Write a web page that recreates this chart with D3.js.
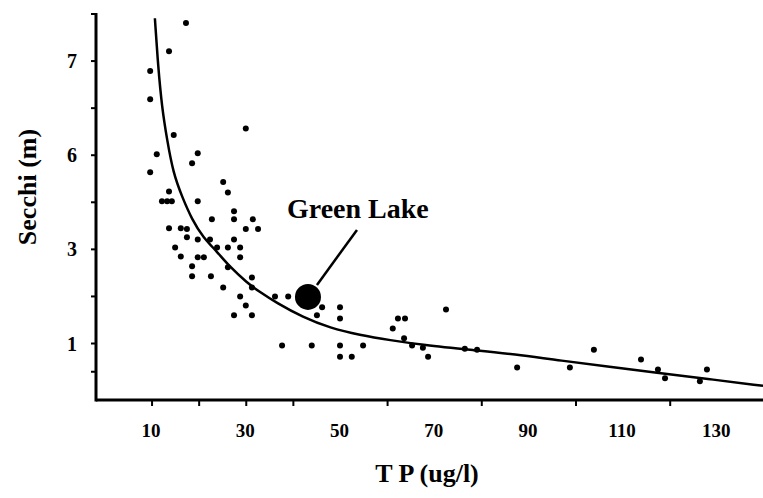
<!DOCTYPE html>
<html>
<head>
<meta charset="utf-8">
<script src="https://cdn.jsdelivr.net/npm/d3@7"></script>
<style>
  body { margin: 0; background: #fff; }
  text { font-family: "Liberation Serif", "DejaVu Serif", serif; font-weight: bold; fill: #000; }
</style>
</head>
<body>
<div id="chart"></div>
<script>
// lake samples: total phosphorus (ug/l) vs secchi depth (m)
const tp = [17.2, 13.6, 9.6, 9.6, 29.9, 14.6, 11.0, 19.7, 18.5, 9.6, 25.1, 26.1, 13.6, 12.1, 13.2, 14.2, 19.7,
  27.4, 27.4, 22.7, 31.4, 13.6, 16.1, 17.4, 29.9, 32.5, 17.4, 19.7, 22.3, 27.4, 14.9, 23.8, 26.1, 28.7,
  16.1, 19.7, 21.0, 28.7, 18.5, 18.5, 22.5, 26.1, 31.2, 31.2, 25.1, 28.7, 36.1, 38.9, 29.9, 27.4, 31.2,
  46.1, 45.0, 37.6, 43.9, 49.9, 49.9, 49.9, 54.8, 49.9, 52.4, 61.1, 62.2, 63.7, 72.4, 63.5, 65.2, 67.5,
  68.6, 87.5, 98.7, 103.8, 113.8, 117.4, 118.9, 127.8, 126.3, 76.4, 79.0]
const secchi = [7.81, 7.21, 6.79, 6.19, 5.57, 5.43, 5.02, 5.04, 4.83, 4.64, 4.43, 4.21, 4.23, 4.02, 4.02, 4.02, 4.02,
  3.81, 3.64, 3.64, 3.64, 3.45, 3.45, 3.43, 3.43, 3.43, 3.26, 3.21, 3.21, 3.21, 3.04, 3.04, 3.04, 3.04,
  2.85, 2.83, 2.83, 2.83, 2.64, 2.43, 2.43, 2.62, 2.40, 2.19, 2.19, 2.00, 2.00, 2.00, 1.81, 1.60, 1.60,
  1.77, 1.60, 0.96, 0.96, 1.77, 1.53, 0.96, 0.96, 0.72, 0.72, 1.32, 1.53, 1.53, 1.72, 1.11, 0.96, 0.91,
  0.72, 0.49, 0.49, 0.87, 0.66, 0.45, 0.26, 0.45, 0.20, 0.89, 0.87]

// fitted curve
const fitTp = [10.6, 11.3, 12.1, 13.2, 14.5, 16.4, 18.5, 20.8, 23.8, 26.5, 30.2, 32.5, 36.5, 42.0, 47.8,
  54.1, 60.5, 67.5, 78.1, 88.8, 96.6, 106.6, 117.2, 127.8, 139.7]
const fitSecchi = [7.91, 6.87, 6.02, 5.32, 4.62, 4.11, 3.63, 3.26, 2.95, 2.63, 2.29, 2.12, 1.86, 1.56, 1.33,
  1.18, 1.07, 0.97, 0.86, 0.75, 0.64, 0.51, 0.38, 0.25, 0.10]

const greenLake = { name: "Green Lake", tp: 43.1, secchi: 1.99 }

const xTickValues = [10, 20, 30, 40, 60, 80, 100, 120]
const xLabelValues = [10, 30, 50, 70, 90, 110, 130]
const yTickValues = [8, 7, 6, 5, 4, 3, 2, 1, 0.4]
const yLabelValues = [7, 5, 3, 1]
const yLabelTexts = ["7", "6", "3", "1"]

const width = 763, height = 498

const svg = d3.select("#chart").append("svg")
  .attr("width", width)
  .attr("height", height)

const x = d3.scaleLinear().domain([-1.9, 139.7]).range([96, 763])
const y = d3.scaleLinear().domain([-0.2, 8.0]).range([400, 14])

// axes
svg.append("line")
  .attr("x1", x(-1.9)).attr("x2", x(139.7))
  .attr("y1", y(-0.2)).attr("y2", y(-0.2))
  .attr("stroke", "#000").attr("stroke-width", 3)
svg.append("line")
  .attr("x1", x(-1.9)).attr("x2", x(-1.9))
  .attr("y1", y(-0.2) + 1.5).attr("y2", y(8.0) - 1)
  .attr("stroke", "#000").attr("stroke-width", 3)

svg.selectAll(".xtick").data(xTickValues).enter().append("line")
  .attr("x1", d => x(d)).attr("x2", d => x(d))
  .attr("y1", y(-0.2)).attr("y2", y(-0.2) + 6)
  .attr("stroke", "#000").attr("stroke-width", 2)
svg.selectAll(".ytick").data(yTickValues).enter().append("line")
  .attr("x1", x(-1.9) - 5).attr("x2", x(-1.9))
  .attr("y1", d => y(d)).attr("y2", d => y(d))
  .attr("stroke", "#000").attr("stroke-width", 2)

svg.selectAll(".xlabel").data(xLabelValues).enter().append("text")
  .attr("x", d => x(d) - 1)
  .attr("y", 437)
  .attr("text-anchor", "middle")
  .style("font-size", "19px")
  .text(d => d)

svg.selectAll(".ylabel").data(yLabelValues).enter().append("text")
  .attr("x", 77)
  .attr("y", d => y(d))
  .attr("dy", "0.35em")
  .attr("text-anchor", "end")
  .style("font-size", "20px")
  .text((d, i) => yLabelTexts[i])

svg.append("text")
  .attr("x", 427)
  .attr("y", 482)
  .attr("text-anchor", "middle")
  .style("font-size", "26px")
  .text("T P (ug/l)")

svg.append("text")
  .attr("transform", "translate(36,187) rotate(-90)")
  .attr("text-anchor", "middle")
  .style("font-size", "26px")
  .text("Secchi (m)")

// fit curve
const fit = fitTp.map((d, i) => [d, fitSecchi[i]])
svg.append("path")
  .datum(fit)
  .attr("fill", "none")
  .attr("stroke", "#000")
  .attr("stroke-width", 2.5)
  .attr("d", d3.line().x(d => x(d[0])).y(d => y(d[1])).curve(d3.curveBasis))

// samples
svg.selectAll(".dot").data(tp).enter().append("circle")
  .attr("cx", d => x(d))
  .attr("cy", (d, i) => y(secchi[i]))
  .attr("r", 3)
  .attr("fill", "#000")

// green lake
const gx = x(greenLake.tp), gy = y(greenLake.secchi)
svg.append("circle")
  .attr("cx", gx).attr("cy", gy)
  .attr("r", 13)
  .attr("fill", "#000")
svg.append("line")
  .attr("x1", gx + 9).attr("y1", gy - 12)
  .attr("x2", gx + 49).attr("y2", gy - 67)
  .attr("stroke", "#000").attr("stroke-width", 2.5)
svg.append("text")
  .attr("x", gx - 21)
  .attr("y", gy - 79)
  .style("font-size", "28px")
  .text(greenLake.name)
</script>
</body>
</html>
